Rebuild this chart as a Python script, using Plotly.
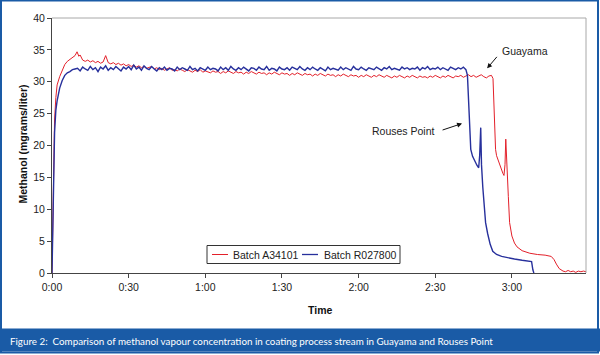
import plotly.graph_objects as go

# ---------------- data (minutes since start, mg/L) ----------------
tick_vals = [0, 30, 60, 90, 120, 150, 180]
tick_text = ["0:00", "0:30", "1:00", "1:30", "2:00", "2:30", "3:00"]
series_names = ["Batch A34101", "Batch R027800"]

# Batch R027800 (Rouses Point) - blue
blue_rise_t = [0, 0.3, 0.6, 1.0, 1.5, 2.0, 3.0, 4.0, 5.0, 6.0, 7.0, 8.0, 9.0]
blue_rise_v = [0, 8, 17, 22, 25.5, 27, 29, 30.2, 31.0, 31.4, 31.6, 31.9, 32.0]
blue_plateau_t = list(range(10, 163))
blue_plateau_v = [
    32.1, 31.7, 32.3, 32.0, 31.8, 32.4, 31.9, 32.2, 31.6, 32.3,
    32.0, 32.5, 31.8, 32.2, 31.9, 32.4, 32.1, 31.7, 32.3, 32.0,
    32.4, 31.9, 32.6, 32.0, 32.3, 31.8, 32.5, 32.1, 31.9, 32.4,
    32.0, 31.7, 32.2, 31.9, 32.3, 31.8, 32.1, 32.0, 31.7, 32.3,
    31.9, 32.2, 32.0, 31.8, 32.4, 31.9, 32.1, 31.7, 32.2, 32.0,
    31.8, 32.3, 31.9, 32.1, 32.0, 31.7, 32.3, 31.9, 32.2, 31.8,
    32.4, 32.0, 31.8, 32.2, 31.9, 32.3, 32.0, 31.7, 32.2, 32.1,
    31.8, 32.3, 32.0, 31.9, 32.4, 31.8, 32.1, 32.0, 31.7, 32.3,
    32.0, 31.9, 32.2, 31.8, 32.3, 32.1, 31.9, 32.4, 32.0, 31.8,
    32.2, 31.9, 32.3, 32.0, 31.8, 32.2, 32.0, 31.7, 32.3, 31.9,
    32.1, 32.0, 31.8, 32.3, 31.9, 32.2, 32.0, 31.8, 32.4, 32.0,
    31.9, 32.3, 32.0, 31.8, 32.2, 32.1, 31.9, 32.3, 32.0, 31.8,
    32.2, 32.0, 32.4, 31.9, 32.1, 32.0, 31.8, 32.3, 32.0, 32.2,
    31.9, 32.1, 32.0, 32.3, 31.8, 32.2, 32.0, 32.4, 31.9, 32.1,
    32.0, 32.3, 31.9, 32.2, 32.0, 31.8, 32.3, 32.1, 31.9, 32.2,
    32.0, 32.3, 31.9,
]
blue_drop_t = [162.6, 163.2, 163.9, 164.6, 165.5, 166.3, 167.0, 167.4, 167.8, 168.1,
               168.6, 169.2, 169.7, 170.5, 171.5, 172.5, 174, 176, 178, 181,
               184, 187.7, 188.2, 188.6]
blue_drop_v = [31.0, 25, 19.4, 18.3, 17.4, 16.9, 16.5, 18.5, 22.8, 17.0,
               13.5, 10.0, 7.9, 6.2, 4.5, 3.4, 2.9, 2.6, 2.4, 2.2,
               2.0, 1.8, 0.5, 0.0]

# Batch A34101 (Guayama) - red
red_rise_t = [0, 0.3, 0.6, 1.0, 1.5, 2.0, 3.0, 4.0, 5.0, 6.0, 7.0, 8.0, 9.0, 9.8, 10.5, 11.0, 11.7]
red_rise_v = [0, 10, 19, 24, 27.5, 29.5, 30.8, 31.8, 32.7, 33.2, 33.5, 33.8, 34.1, 34.7, 34.0, 34.2, 33.5]
red_plateau_t = list(range(12, 173))
red_plateau_v = [
    33.4, 33.2, 33.4, 33.1, 33.3, 33.0, 33.2, 32.9, 33.1, 34.1,
    33.0, 32.8, 33.0, 32.7, 32.9, 32.6, 32.8, 32.5, 32.7, 32.4,
    32.6, 32.3, 32.5, 32.2, 32.4, 32.1, 32.3, 32.4, 32.0, 32.2,
    31.9, 32.1, 31.8, 32.0, 32.2, 31.8, 31.9, 31.7, 32.0, 31.8,
    31.6, 31.9, 31.7, 31.5, 31.8, 31.6, 31.9, 31.5, 31.7, 31.6,
    31.4, 31.7, 31.5, 31.6, 31.3, 31.6, 31.4, 31.7, 31.5, 31.3,
    31.6, 31.4, 31.5, 31.2, 31.5, 31.3, 31.6, 31.4, 31.2, 31.5,
    31.3, 31.4, 31.1, 31.4, 31.2, 31.5, 31.3, 31.1, 31.4, 31.2,
    31.3, 31.0, 31.3, 31.1, 31.4, 31.2, 31.0, 31.3, 31.1, 31.2,
    30.9, 31.2, 31.0, 31.3, 31.1, 30.9, 31.2, 31.0, 31.1, 30.8,
    31.1, 30.9, 31.2, 31.0, 30.8, 31.1, 30.9, 31.0, 30.7, 31.0,
    30.8, 31.1, 30.9, 30.7, 31.0, 30.8, 31.1, 30.9, 30.7, 31.0,
    30.8, 30.6, 30.9, 30.7, 31.0, 30.8, 30.6, 30.9, 30.7, 31.0,
    30.8, 30.6, 30.9, 30.7, 30.8, 30.6, 30.9, 30.7, 31.0, 30.8,
    30.6, 30.9, 30.7, 31.0, 30.8, 30.6, 30.9, 30.8, 31.0, 30.7,
    30.9, 31.1, 30.8, 31.0, 30.7, 30.9, 31.1, 30.8, 30.6, 30.9,
    31.0,
]
red_drop_t = [172.6, 173.0, 173.6, 174.0, 174.5, 175.5, 176.5, 176.9, 177.3, 177.6,
              177.9, 178.2, 178.6, 179.1, 180.0, 181.0, 182.0, 184, 187, 190,
              193, 195.4, 196.5, 197.4, 198.5, 200, 201, 202, 203, 204,
              205, 206, 207, 208, 209]
red_drop_v = [30.5, 26, 19.4, 18.4, 17.8, 16.6, 15.6, 15.3, 17, 21,
              17.5, 16.0, 12, 7.9, 5.8, 4.7, 4.1, 3.5, 3.1, 2.9,
              2.8, 2.6, 2.1, 1.4, 0.7, 0.3, 0.2, 0.4, 0.2, 0.3,
              0.1, 0.3, 0.2, 0.3, 0.2]

red_t = red_rise_t + red_plateau_t + red_drop_t
red_v = red_rise_v + red_plateau_v + red_drop_v
blue_t = blue_rise_t + blue_plateau_t + blue_drop_t
blue_v = blue_rise_v + blue_plateau_v + blue_drop_v

RED = "#e3202a"
BLUE = "#27309c"
FRAME_BLUE = "#1a5ba6"
FONT = "Liberation Sans, Arial, sans-serif"

fig = go.Figure()
fig.add_trace(go.Scatter(x=red_t, y=red_v, mode="lines", name=series_names[0],
                         line=dict(color=RED, width=1), showlegend=False))
fig.add_trace(go.Scatter(x=blue_t, y=blue_v, mode="lines", name=series_names[1],
                         line=dict(color=BLUE, width=1.4), showlegend=False))

# geometry helpers (pixel -> paper) for plot area l=52, r=586, t=18.5, b=273.5
L, R, T, B = 52, 586, 18.5, 273.5
def px(x):
    return (x - L) / (R - L)
def py(y):
    return (B - y) / (B - T)

fig.update_layout(
    width=600, height=355,
    margin=dict(l=52, r=14, t=18, b=82),
    paper_bgcolor="white",
    plot_bgcolor="rgba(0,0,0,0)",
    font=dict(family=FONT, size=10.5, color="#222"),
    xaxis=dict(range=[0, 209], tickvals=tick_vals, ticktext=tick_text,
               ticks="outside", ticklen=4, tickcolor="#444", showgrid=False,
               zeroline=False, showline=True, linecolor="#444", linewidth=1,
               tickfont=dict(family=FONT, size=10.5, color="#222")),
    yaxis=dict(range=[0, 40], dtick=5, ticks="outside", ticklen=4, tickcolor="#444",
               showgrid=False, zeroline=False, showline=True, linecolor="#444",
               linewidth=1, tickfont=dict(family=FONT, size=10.5, color="#222")),
)

shapes = [
    # plot-area frame (top and right)
    dict(type="line", xref="paper", yref="paper", x0=0, x1=1, y0=1, y1=1,
         line=dict(color="#a8a8a8", width=1)),
    dict(type="line", xref="paper", yref="paper", x0=1, x1=1, y0=0, y1=1,
         line=dict(color="#a8a8a8", width=1)),
    # caption bar
    dict(type="rect", xref="paper", yref="paper", x0=px(0), x1=px(600), y0=py(352), y1=py(329),
         fillcolor=FRAME_BLUE, line=dict(width=0)),
    # outer border
    dict(type="rect", xref="paper", yref="paper", x0=px(1), x1=px(598), y0=py(353), y1=py(1),
         fillcolor="rgba(0,0,0,0)", line=dict(color=FRAME_BLUE, width=2)),
    # legend box and samples
    dict(type="rect", xref="paper", yref="paper", x0=px(207), x1=px(400), y0=py(264), y1=py(246),
         fillcolor="white", line=dict(color="#333", width=1)),
    dict(type="line", xref="paper", yref="paper", x0=px(212), x1=px(228), y0=py(255), y1=py(255),
         line=dict(color=RED, width=1)),
    dict(type="line", xref="paper", yref="paper", x0=px(302), x1=px(318), y0=py(255), y1=py(255),
         line=dict(color=BLUE, width=1.3)),
]
fig.update_layout(shapes=shapes)

annotations = [
    dict(text="<b>Methanol (mgrams/liter)</b>", xref="paper", yref="paper",
         x=px(14), y=py(145), textangle=-90, showarrow=False,
         font=dict(family=FONT, size=10.5, color="#111")),
    dict(text="<b>Time</b>", xref="paper", yref="paper", x=px(320), y=py(318),
         showarrow=False, font=dict(family=FONT, size=10.5, color="#111")),
    dict(text="Figure 2:  Comparison of methanol vapour concentration in coating process stream in Guayama and Rouses Point",
         xref="paper", yref="paper", x=px(8), y=py(341), xanchor="left", yanchor="middle",
         showarrow=False, font=dict(family="Lato, sans-serif", size=9.8, color="white")),
    # legend texts
    dict(text=series_names[0], xref="paper", yref="paper", x=px(231), y=py(255),
         xanchor="left", yanchor="middle", showarrow=False,
         font=dict(family=FONT, size=10.5, color="#222")),
    dict(text=series_names[1], xref="paper", yref="paper", x=px(322), y=py(255),
         xanchor="left", yanchor="middle", showarrow=False,
         font=dict(family=FONT, size=10.5, color="#222")),
    # labels
    dict(text="Guayama", x=175.3, y=34.8, xanchor="left", yanchor="middle", showarrow=False,
         font=dict(family=FONT, size=10.5, color="#222")),
    dict(text="Rouses Point", x=150.7, y=22.3, xanchor="right", yanchor="middle", showarrow=False,
         font=dict(family=FONT, size=10.5, color="#222")),
    # arrows
    dict(text="", x=170.3, y=32.1, ax=11, ay=-13, axref="pixel", ayref="pixel",
         showarrow=True, arrowhead=2, arrowsize=1, arrowwidth=1, arrowcolor="#111", standoff=0),
    dict(text="", x=160.5, y=23.45, ax=-21, ay=7, axref="pixel", ayref="pixel",
         showarrow=True, arrowhead=2, arrowsize=1, arrowwidth=1, arrowcolor="#111", standoff=0),
]
fig.update_layout(annotations=annotations)

fig.write_html("out.html", config={"displayModeBar": False},
               post_script="document.body.style.margin='0';")
